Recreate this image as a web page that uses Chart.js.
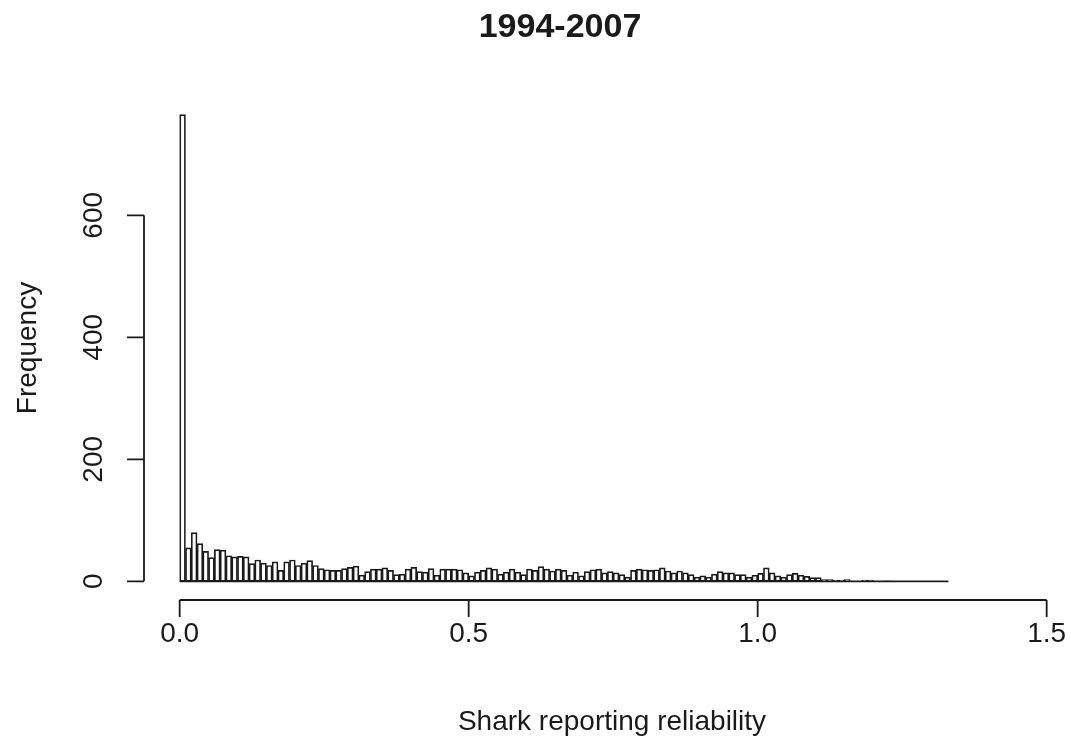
<!DOCTYPE html>
<html>
<head>
<meta charset="utf-8">
<title>1994-2007</title>
<script src="https://cdn.jsdelivr.net/npm/chart.js@4.4.1/dist/chart.umd.min.js"></script>
<style>
  html, body { margin: 0; padding: 0; background: #fff; }
  canvas { display: block; }
</style>
</head>
<body>
<canvas id="hist" width="1071" height="742"></canvas>
<script>
// histogram counts, bins of width 0.01 from 0.00 to 1.33
const binWidth = 0.01;
const counts = [
  765, 55, 80, 62, 49, 39, 52, 51, 42, 40,
  41, 40, 29, 35, 30, 26, 32, 18, 32, 35,
  26, 30, 34, 26, 21, 19, 18, 18, 21, 23,
  25, 10, 16, 20, 20, 22, 18, 11, 12, 20,
  23, 16, 15, 21, 10, 20, 20, 20, 19, 14,
  9, 15, 18, 22, 20, 12, 15, 20, 15, 11,
  20, 18, 24, 20, 17, 20, 18, 10, 15, 9,
  16, 19, 20, 14, 16, 14, 11, 7, 18, 20,
  19, 18, 19, 22, 17, 14, 17, 14, 11, 7,
  9, 7, 12, 16, 14, 14, 11, 11, 7, 10,
  13, 22, 14, 9, 7, 11, 13, 10, 8, 6,
  6, 3, 3, 2, 2, 3, 0, 0, 2, 2,
  0, 0, 1, 0, 0, 0, 0, 0, 0, 0,
  0, 0, 0
];
const xTicks = [0, 0.5, 1.0, 1.5];
const xTickLabels = ['0.0', '0.5', '1.0', '1.5'];
const yTicks = [0, 200, 400, 600];

const mainTitle = '1994-2007';
const xTitle = 'Shark reporting reliability';
const yTitle = 'Frequency';

const barData = counts.map((c, i) => ({ x: +(i * binWidth + binWidth / 2).toFixed(3), y: c }));
const lastEdge = +(counts.length * binWidth).toFixed(2);

const FONT = '"Liberation Sans", Arial, Helvetica, sans-serif';
const INK = '#1a1a1a';

// R style axes, drawn with the chart scales
const rAxes = {
  id: 'rAxes',
  afterDraw(chart) {
    const ctx = chart.ctx;
    const xs = chart.scales.x;
    const ys = chart.scales.y;
    const area = chart.chartArea;
    ctx.save();
    ctx.strokeStyle = INK;
    ctx.fillStyle = INK;
    ctx.lineWidth = 1.8;

    // x axis
    const xAxisY = area.bottom;
    const x0 = xs.getPixelForValue(xTicks[0]);
    const x1 = xs.getPixelForValue(xTicks[xTicks.length - 1]);
    ctx.beginPath();
    ctx.moveTo(x0, xAxisY);
    ctx.lineTo(x1, xAxisY);
    xTicks.forEach(v => {
      const px = xs.getPixelForValue(v);
      ctx.moveTo(px, xAxisY);
      ctx.lineTo(px, xAxisY + 17);
    });
    ctx.stroke();
    ctx.font = '28px ' + FONT;
    ctx.textAlign = 'center';
    ctx.textBaseline = 'middle';
    xTicks.forEach((v, i) => {
      ctx.fillText(xTickLabels[i], xs.getPixelForValue(v), 634);
    });

    // y axis
    const yAxisX = area.left - 1;
    const y0 = ys.getPixelForValue(yTicks[0]);
    const y1 = ys.getPixelForValue(yTicks[yTicks.length - 1]);
    ctx.beginPath();
    ctx.moveTo(yAxisX, y0);
    ctx.lineTo(yAxisX, y1);
    yTicks.forEach(v => {
      const py = ys.getPixelForValue(v);
      ctx.moveTo(yAxisX, py);
      ctx.lineTo(yAxisX - 17, py);
    });
    ctx.stroke();
    yTicks.forEach(v => {
      ctx.save();
      ctx.translate(94, ys.getPixelForValue(v));
      ctx.rotate(-Math.PI / 2);
      ctx.fillText(String(v), 0, 0);
      ctx.restore();
    });

    // titles
    ctx.fillText(xTitle, 612, 722);
    ctx.save();
    ctx.translate(28, (area.top + area.bottom) / 2);
    ctx.rotate(-Math.PI / 2);
    ctx.fillText(yTitle, 0, 0);
    ctx.restore();
    ctx.font = 'bold 34px ' + FONT;
    ctx.fillText(mainTitle, 560, 28);
    ctx.restore();
  }
};

const ctx = document.getElementById('hist').getContext('2d');

const hist = new Chart(ctx, {
  type: 'bar',
  data: {
    datasets: [
      {
        type: 'bar',
        data: barData,
        backgroundColor: '#ffffff',
        borderColor: INK,
        borderWidth: 1.7,
        borderSkipped: false,
        barPercentage: 1,
        categoryPercentage: 1,
        grouped: false,
        order: 1
      },
      {
        type: 'line',
        data: [{ x: 0, y: 0 }, { x: lastEdge, y: 0 }],
        borderColor: INK,
        borderWidth: 1.8,
        pointRadius: 0,
        order: 0
      }
    ]
  },
  options: {
    responsive: false,
    animation: false,
    layout: {
      padding: { left: 145, right: 7, top: 96, bottom: 142 }
    },
    plugins: {
      legend: { display: false },
      tooltip: { enabled: false },
      title: { display: false }
    },
    scales: {
      x: {
        type: 'linear',
        min: -0.06,
        max: 1.53,
        offset: false,
        display: false
      },
      y: {
        type: 'linear',
        min: -30.6,
        max: 795.6,
        display: false
      }
    }
  },
  plugins: [rAxes]
});
</script>
</body>
</html>
